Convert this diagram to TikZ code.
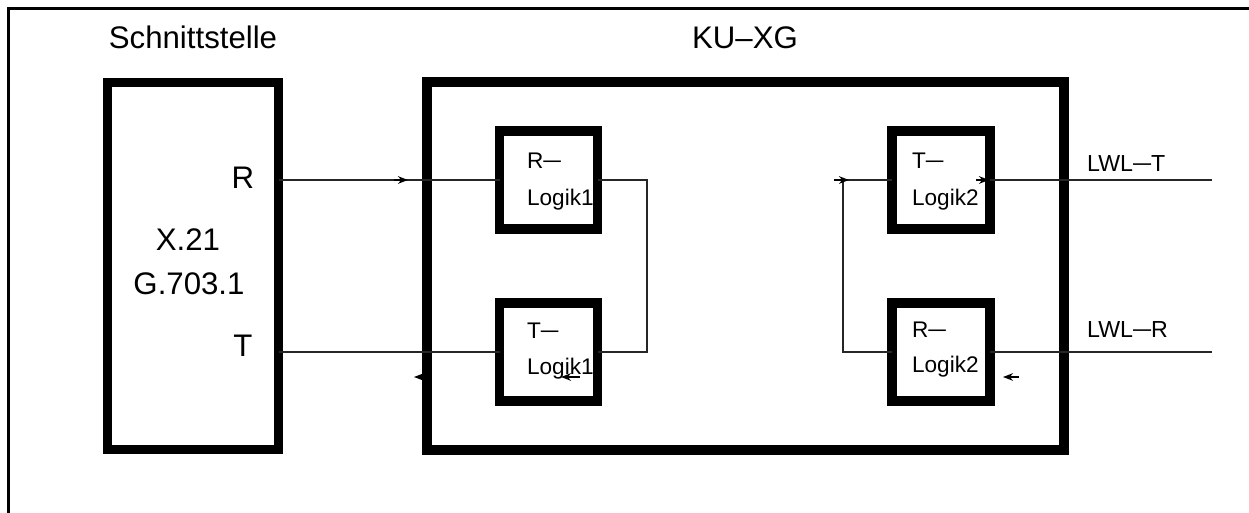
\documentclass[tikz,border=0pt]{standalone}
\usepackage{fontspec}
\setmainfont{Liberation Sans}
\usetikzlibrary{arrows.meta}
\newcommand{\mydash}{\raisebox{0.05em}{\scalebox{0.78}[1]{—}}}
\begin{document}
\begin{tikzpicture}[x=0.5pt,y=-0.5pt,
  frame/.style={line width=1.2pt},
  thickbox/.style={draw, rectangle, line width=4.75pt, inner sep=0pt, outer sep=0pt},
  logikbox/.style={thickbox, minimum width=49pt, minimum height=49pt},
  wire/.style={line width=1pt, draw=black!85},
  arr/.style={line width=1pt, -{Stealth[length=5pt,width=3.8pt]}},
  big/.style={font=\fontsize{15.6}{18}\selectfont, anchor=base},
  small/.style={font=\fontsize{11.3}{13}\selectfont, anchor=base west},
  lwl/.style={font=\fontsize{11.6}{13}\selectfont, anchor=base west}]
\useasboundingbox (0,0) rectangle (1249,513);
% frame (top and left)
\draw[frame] (8.5,513) -- (8.5,8.5) -- (1249,8.5);

% titles
\node[big] (tschn) at (193,49) {Schnittstelle};
\node[big] (tku) at (745,49) {KU--XG};

% boxes
\node[thickbox, minimum width=85.5pt, minimum height=183.5pt] (sbox) at (193,266) {};
\node[thickbox, line width=5pt, minimum width=318.5pt, minimum height=184pt] (kbox) at (745,266) {};
\node[logikbox] (rl1) at (548.5,180) {};
\node[logikbox] (tl1) at (548.5,352) {};
\node[logikbox] (tl2) at (941,180) {};
\node[logikbox] (rl2) at (941,352) {};

% labels in Schnittstelle
\node[big] (lr) at (243,189) {R};
\node[big] (lt) at (243,357) {T};
\node[big] (lx) at (188,251) {X.21};
\node[big] (lg) at (189,295) {G.703.1};

% labels in logic boxes
\node[small] (rl1a) at (520,169) {R\mydash};
\node[small] (rl1b) at (520,206) {Logik1};
\node[small] (tl1a) at (520,339) {T\mydash};
\node[small] (tl1b) at (520,375) {Logik1};
\node[small] (tl2a) at (905,169) {T\mydash};
\node[small] (tl2b) at (905,206) {Logik2};
\node[small] (rl2a) at (905,338) {R\mydash};
\node[small] (rl2b) at (905,373) {Logik2};

% LWL labels
\node[lwl] (lwlta) at (1080,172) {LWL\mydash T};
\node[lwl] (lwlra) at (1080,338) {LWL\mydash R};

% wires
\coordinate (jl) at (647,180);
\coordinate (jr) at (843,180);
\coordinate (lwlt) at (1212,180);
\coordinate (lwlr) at (1212,352);
\draw[wire] (sbox.east |- rl1.west) -- (rl1.west);
\draw[wire] (sbox.east |- tl1.west) -- (tl1.west);
\draw[wire] (rl1.east) -- (jl) |- (tl1.east);
\draw[wire] (tl2.west) -- (jr) |- (rl2.west);
\draw[wire] (tl2.east) -- (lwlt);
\draw[wire] (rl2.east) -- (lwlr);

% small arrows
\coordinate (a1s) at (394,180); \coordinate (a1e) at (408,180);
\coordinate (a2s) at (426,377); \coordinate (a2e) at (414,377);
\coordinate (a3s) at (580,377); \coordinate (a3e) at (561,377);
\coordinate (a4s) at (834,180); \coordinate (a4e) at (849,180);
\coordinate (a5s) at (976,180); \coordinate (a5e) at (989,180);
\coordinate (a6s) at (1019,377); \coordinate (a6e) at (1003,377);
\draw[arr] (a1s) -- (a1e);
\draw[arr] (a2s) -- (a2e);
\draw[arr] (a3s) -- (a3e);
\draw[arr] (a4s) -- (a4e);
\draw[arr] (a5s) -- (a5e);
\draw[arr] (a6s) -- (a6e);
\end{tikzpicture}
\end{document}
